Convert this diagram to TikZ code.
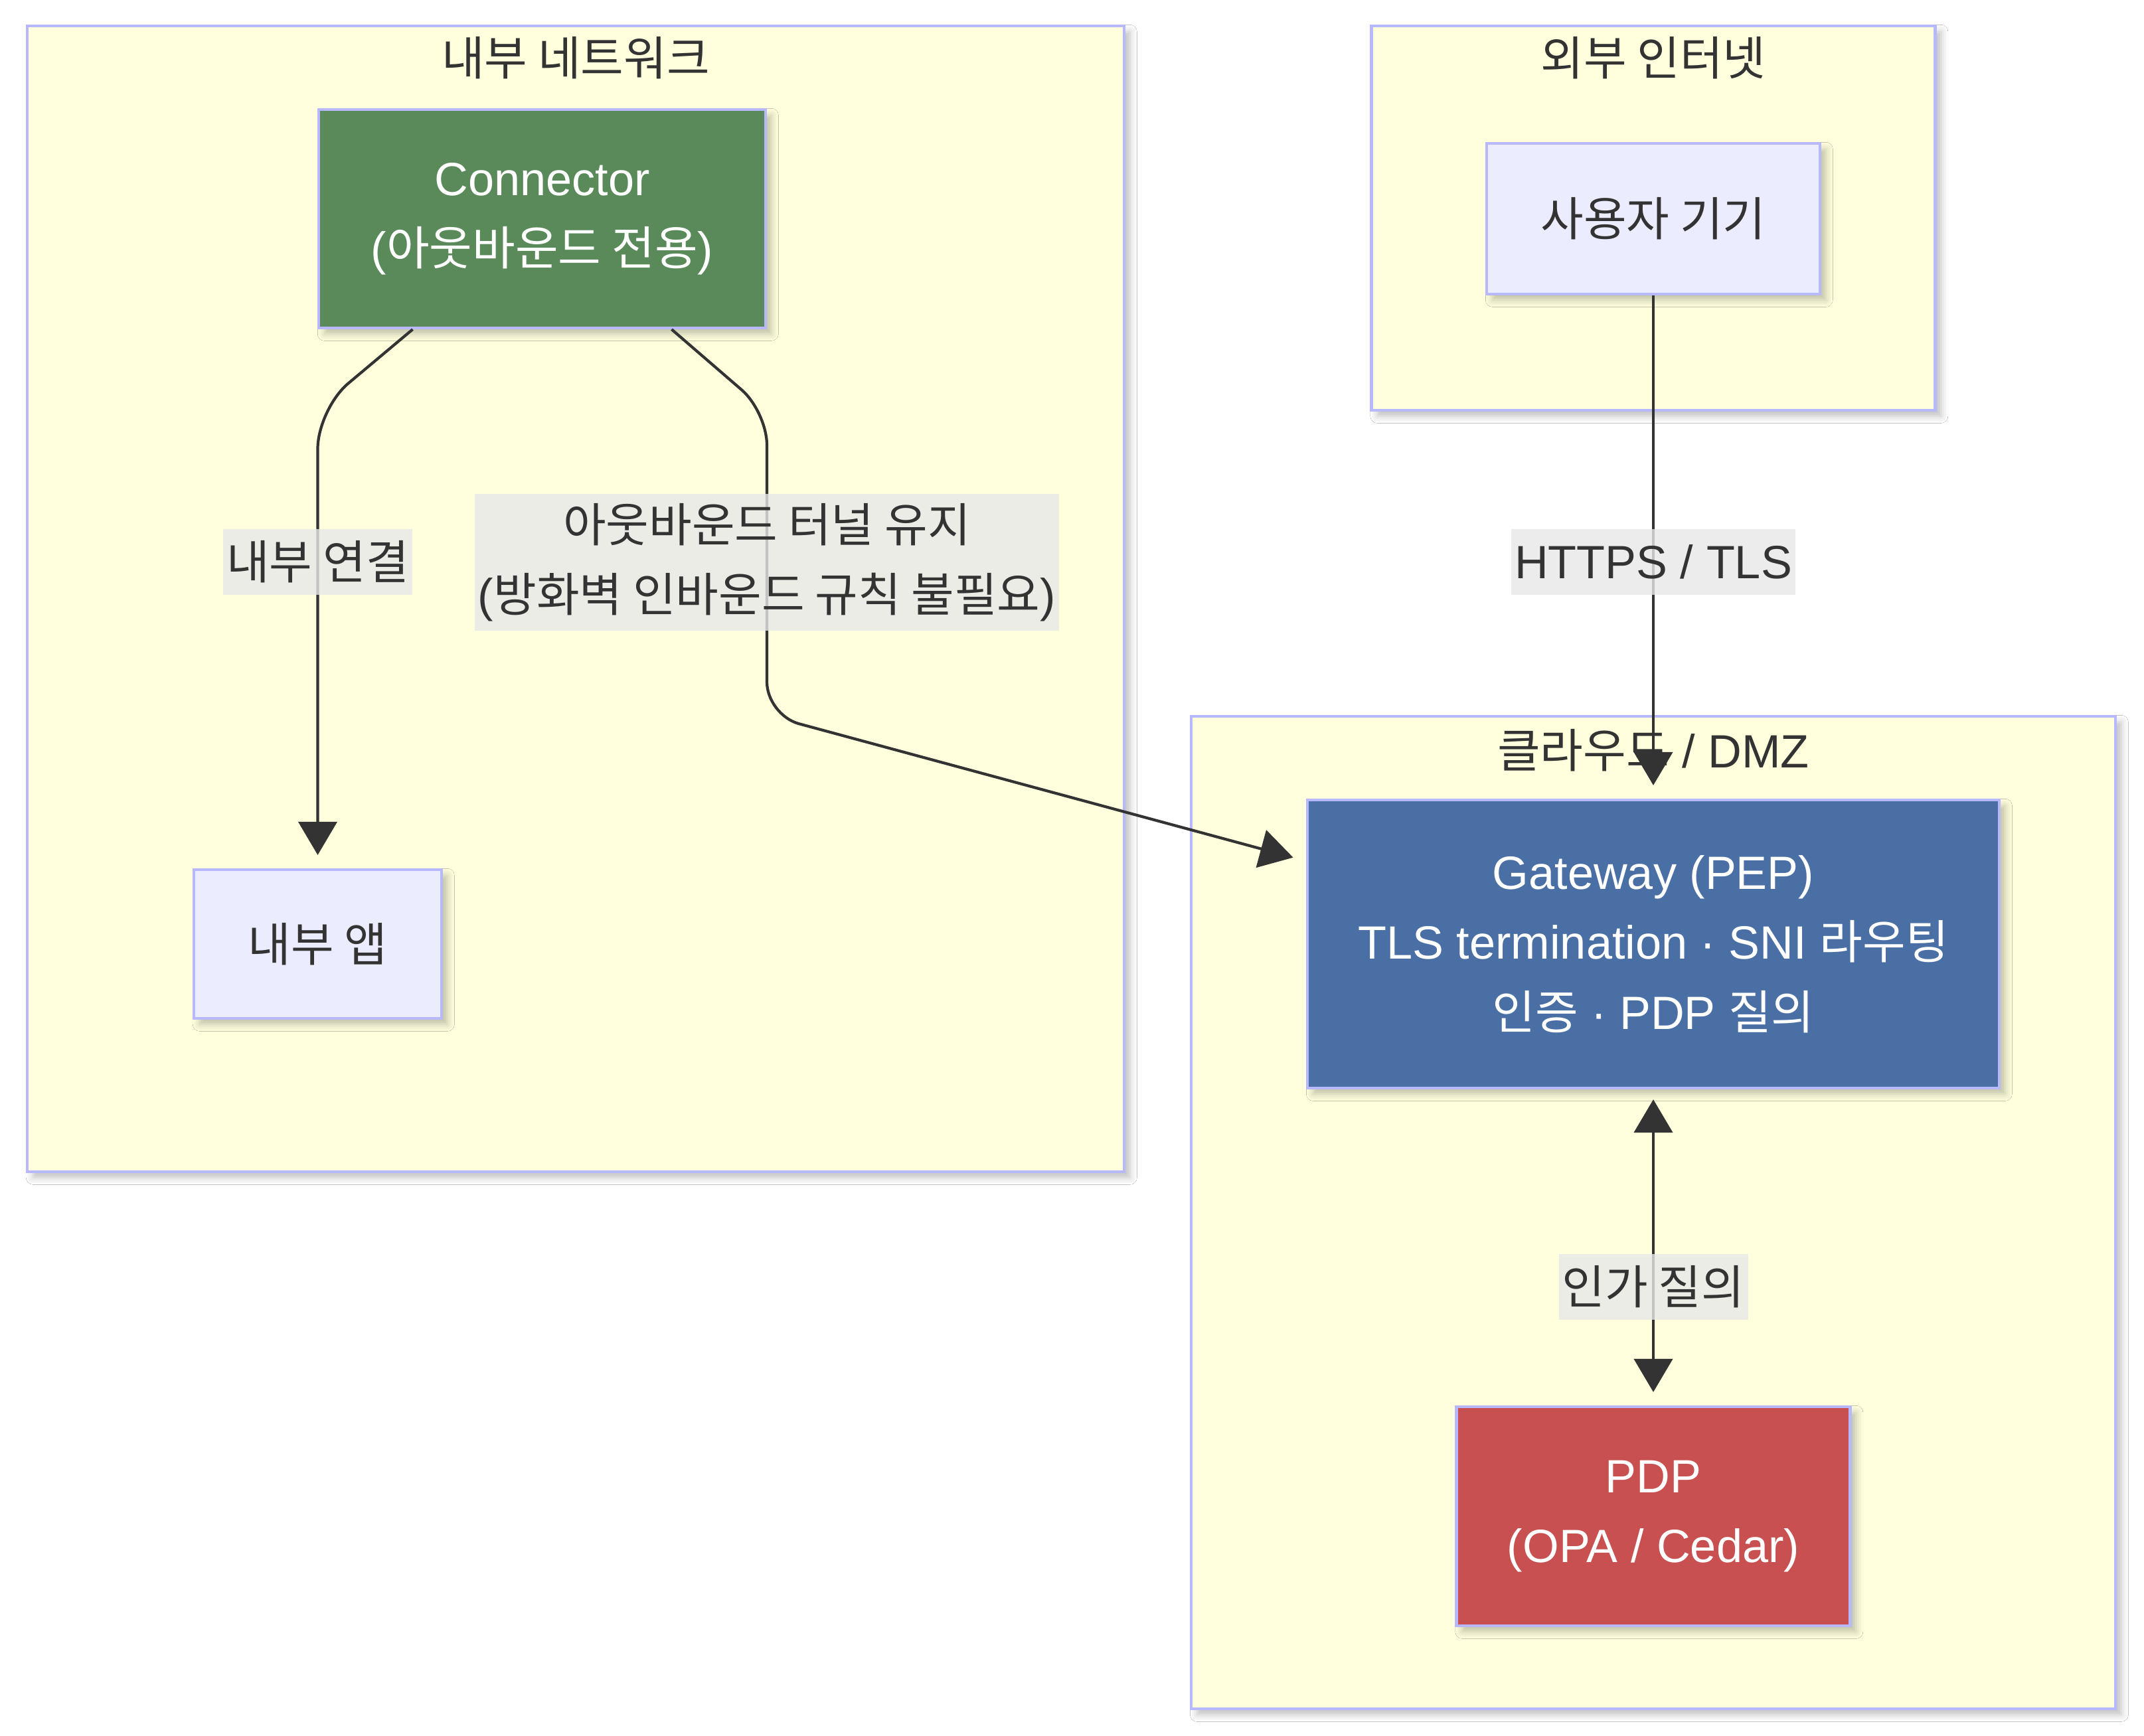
\documentclass[tikz,border=0pt]{standalone}
\usepackage{fontspec}
\setmainfont{Liberation Sans}
\newfontfamily\kr{Noto Sans CJK KR}
\usetikzlibrary{arrows.meta,shadows.blur}
\definecolor{clfill}{HTML}{FFFFDE}
\definecolor{clline}{HTML}{B8B8FF}
\definecolor{nfill}{HTML}{ECECFF}
\definecolor{ink}{HTML}{333333}
\definecolor{conngreen}{HTML}{5B8A5A}
\definecolor{gwblue}{HTML}{4A6FA5}
\definecolor{pdpred}{HTML}{C85050}
\definecolor{lblbg}{HTML}{E8E8E8}
\tikzset{
  >={Triangle[width=0.58cm,length=0.5cm]},
  shade/.style={blur shadow={shadow xshift=2.5pt,shadow yshift=-2.5pt,shadow blur radius=3pt,shadow opacity=25}},
  cluster/.style={draw=clline,fill=clfill,line width=1.2pt,shade,inner sep=0pt},
  title/.style={text=ink,font=\fontsize{20}{30}\selectfont,inner sep=0pt},
  box/.style={draw=clline,fill=nfill,line width=1.2pt,text=ink,shade,align=center,
    inner sep=0pt,font=\fontsize{20}{30}\selectfont},
  lbl/.style={fill=lblbg,fill opacity=0.8,text opacity=1,text=ink,align=center,
    inner xsep=1.5pt,inner ysep=4pt,minimum height=0.99cm,font=\fontsize{20}{30}\selectfont},
  edge/.style={draw=ink,line width=1.2pt,->,shorten >=0.2cm},
}
\begin{document}
\begin{tikzpicture}
  \fill[white] (0,0) rectangle (32.29,-26.15);
  \useasboundingbox (0,0) rectangle (32.29,-26.15);
  % subgraphs
  \node[cluster,minimum width=16.52cm,minimum height=17.26cm] (net) at (8.67,-9.02) {};
  \node[cluster,minimum width=8.49cm,minimum height=5.79cm] (inet) at (24.9,-3.285) {};
  \node[cluster,minimum width=13.92cm,minimum height=14.95cm] (dmz) at (24.9,-18.265) {};
  \node[title] (nettitle) at ([yshift=-0.5cm]net.north) {{\kr 내부 네트워크}};
  \node[title] (inettitle) at ([yshift=-0.5cm]inet.north) {{\kr 외부 인터넷}};
  \node[title] (dmztitle) at ([yshift=-0.53cm]dmz.north) {{\kr 클라우드} / DMZ};
  % nodes
  \node[box,fill=conngreen,text=white,minimum width=6.73cm,minimum height=3.29cm] (conn)
    at (8.165,-3.295) {Connector\\({\kr 아웃바운드 전용})};
  \node[box,minimum width=3.73cm,minimum height=2.24cm] (app) at (4.785,-14.22) {{\kr 내부 앱}};
  \node[box,minimum width=5.02cm,minimum height=2.27cm] (dev) at (24.9,-3.295) {{\kr 사용자 기기}};
  \node[box,fill=gwblue,text=white,minimum width=10.42cm,minimum height=4.34cm] (gw)
    at (24.9,-14.22) {Gateway (PEP)\\TLS termination · SNI {\kr 라우팅}\\{\kr 인증} · PDP {\kr 질의}};
  \node[box,fill=pdpred,text=white,minimum width=5.93cm,minimum height=3.30cm] (pdp)
    at (24.9,-22.84) {PDP\\(OPA / Cedar)};
  % links
  \begin{scope}[edge]
    \draw[rounded corners=0.6cm] ([xshift=-1.95cm]conn.south) -- ++(-1.43,-1.2) -- (app.north);
    \draw[rounded corners=0.5cm] ([xshift=1.95cm]conn.south) -- ++(1.435,-1.24) -- ++(0,-4.57)
      -- ([yshift=-0.94cm]gw.north west);
    \draw (dev) -- (gw);
    \draw[<->,shorten <=0.15cm] (gw) -- (pdp);
  \end{scope}
  \node[lbl] (l1) at (4.785,-8.46) {{\kr 내부 연결}};
  \node[lbl] (l2) at (11.55,-8.47) {{\kr 아웃바운드 터널 유지}\\({\kr 방화벽 인바운드 규칙 불필요})};
  \node[lbl] (l3) at (24.9,-8.46) {HTTPS / TLS};
  \node[lbl] (l4) at (24.9,-19.38) {{\kr 인가 질의}};
\end{tikzpicture}
\end{document}
